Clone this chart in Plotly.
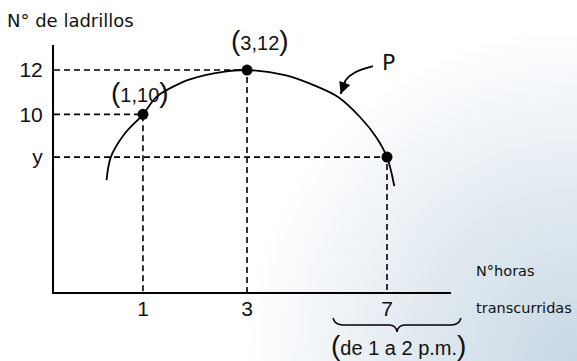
import base64
import plotly.graph_objects as go

# ---- data ----
hours_labels = ["1", "3", "7"]
hours_pos = [1, 3, 5.69]          # schematic axis positions of the hour ticks
bricks = [10, 12, 8.07]
bricks_labels = ["10", "12", "y"]
point_text = ["(1,10)", "(3,12)", ""]

curve_x = [0.30, 0.385, 0.63, 1.0, 1.26, 1.58, 1.90, 2.54, 3.0, 3.73, 4.35, 4.75, 5.17, 5.48, 5.69, 5.83]
curve_y = [7.03, 8.09, 9.07, 10.0, 10.79, 11.25, 11.58, 11.92, 12.0, 11.77, 11.25, 10.78, 9.88, 8.98, 8.07, 6.76]

arrow_x = [5.42, 5.08, 4.90, 4.80]
arrow_y = [12.18, 11.90, 11.55, 10.92]

X_RANGE = [-0.71, 6.92]
Y_RANGE = [1.98, 13.13]

W, H = 577, 361
FONT = "DejaVu Sans"
NUMFONT = "Liberation Sans"


def px(x):
    return x / W


def py(y):
    return 1 - y / H


fig = go.Figure()

# dashed guide lines
for xp, yv in zip(hours_pos, bricks):
    fig.add_trace(go.Scatter(
        x=[X_RANGE[0], xp, xp], y=[yv, yv, Y_RANGE[0]], mode="lines",
        line=dict(color="black", width=1.6, dash="6px,4px"),
        hoverinfo="skip", showlegend=False, cliponaxis=False))

# curve P
fig.add_trace(go.Scatter(
    x=curve_x, y=curve_y, mode="lines",
    line=dict(color="black", width=1.8, shape="spline", smoothing=1.0),
    hoverinfo="skip", showlegend=False, cliponaxis=False))

# points
fig.add_trace(go.Scatter(
    x=hours_pos, y=bricks, mode="markers",
    marker=dict(color="black", size=11),
    hoverinfo="skip", showlegend=False, cliponaxis=False))

# curved arrow body to P
fig.add_trace(go.Scatter(
    x=arrow_x, y=arrow_y, mode="lines",
    line=dict(color="black", width=1.8, shape="spline"),
    hoverinfo="skip", showlegend=False, cliponaxis=False))

big = '<span style="font-size:28px">{}</span>'
annotations = []
shifts = [(-3, 22), (13, 30), (0, 0)]
for xp, yv, t, (dx, dy) in zip(hours_pos, bricks, point_text, shifts):
    if not t:
        continue
    inner = t[1:-1]
    annotations.append(dict(
        x=xp, y=yv, xref="x", yref="y", xshift=dx, yshift=dy,
        text=big.format("(") + inner + big.format(")"), showarrow=False,
        font=dict(family=NUMFONT, size=20, color="#111")))

annotations += [
    # arrow head at the end of the curved pointer
    dict(x=arrow_x[-1], y=arrow_y[-1], ax=arrow_x[-2], ay=arrow_y[-2],
         xref="x", yref="y", axref="x", ayref="y", text="", showarrow=True,
         arrowhead=2, arrowsize=1.3, arrowwidth=1.8, arrowcolor="black"),
    dict(x=5.71, y=12.36, xref="x", yref="y", text="P", showarrow=False,
         font=dict(family=FONT, size=22, color="#111")),
    dict(x=px(5), y=py(20), xref="paper", yref="paper", xanchor="left", yanchor="middle",
         text="N° de ladrillos", showarrow=False,
         font=dict(family=FONT, size=18, color="#111")),
    dict(x=px(474), y=py(271), xref="paper", yref="paper", xanchor="left", yanchor="middle",
         text="N°horas", showarrow=False,
         font=dict(family=FONT, size=14.5, color="#111")),
    dict(x=px(474), y=py(308), xref="paper", yref="paper", xanchor="left", yanchor="middle",
         text="transcurridas", showarrow=False,
         font=dict(family=FONT, size=14.5, color="#111")),
    dict(x=px(398), y=py(345), xref="paper", yref="paper", xanchor="center", yanchor="middle",
         text=big.format("(") + "de 1 a 2 p.m." + big.format(")"), showarrow=False,
         font=dict(family=NUMFONT, size=20, color="#111")),
]

# brace under the "7" tick (pixel coordinates -> paper)
pts = [(333, 318), (335, 325), (343, 325), (389, 325), (396, 325), (397, 332),
       (398, 325), (405, 325), (451, 325), (459, 325), (461, 318)]
P = [(px(a), py(b)) for a, b in pts]
path = ("M {0[0]},{0[1]} Q {1[0]},{1[1]} {2[0]},{2[1]} L {3[0]},{3[1]} "
        "Q {4[0]},{4[1]} {5[0]},{5[1]} Q {6[0]},{6[1]} {7[0]},{7[1]} "
        "L {8[0]},{8[1]} Q {9[0]},{9[1]} {10[0]},{10[1]}").format(*P)

# soft background gradient
svg = (f"<svg xmlns='http://www.w3.org/2000/svg' width='{W}' height='{H}'>"
       "<defs><radialGradient id='g' cx='577' cy='361' r='430' gradientUnits='userSpaceOnUse'>"
       "<stop offset='0' stop-color='#c8d8e4'/><stop offset='0.35' stop-color='#dfe8ef'/>"
       "<stop offset='0.78' stop-color='#ffffff'/></radialGradient></defs>"
       f"<rect width='{W}' height='{H}' fill='url(#g)'/></svg>")
src = "data:image/svg+xml;base64," + base64.b64encode(svg.encode()).decode()

fig.update_layout(
    width=W, height=H, autosize=False,
    margin=dict(l=0, r=0, t=0, b=0),
    paper_bgcolor="white", plot_bgcolor="rgba(0,0,0,0)",
    showlegend=False,
    images=[dict(source=src, xref="paper", yref="paper", x=0, y=1, sizex=1, sizey=1,
                 sizing="stretch", layer="below")],
    xaxis=dict(domain=[54 / W, 451 / W], range=X_RANGE, showgrid=False, zeroline=False,
               showline=True, linecolor="black", linewidth=2,
               tickvals=hours_pos, ticktext=hours_labels, ticks="",
               ticklabelstandoff=-3,
               tickfont=dict(family=NUMFONT, size=21, color="#111")),
    yaxis=dict(domain=[(H - 292) / H, (H - 45) / H], range=Y_RANGE, showgrid=False,
               zeroline=False, showline=True, linecolor="black", linewidth=2,
               tickvals=bricks, ticktext=bricks_labels, ticks="",
               ticklabelstandoff=5,
               tickfont=dict(family=NUMFONT, size=21, color="#111")),
    annotations=annotations,
    shapes=[dict(type="path", path=path, xref="paper", yref="paper",
                 line=dict(color="black", width=1.5))],
)

fig.write_html(
    "out.html",
    config={"displayModeBar": False},
    post_script="document.body.style.margin='0';document.body.style.overflow='hidden';",
)
